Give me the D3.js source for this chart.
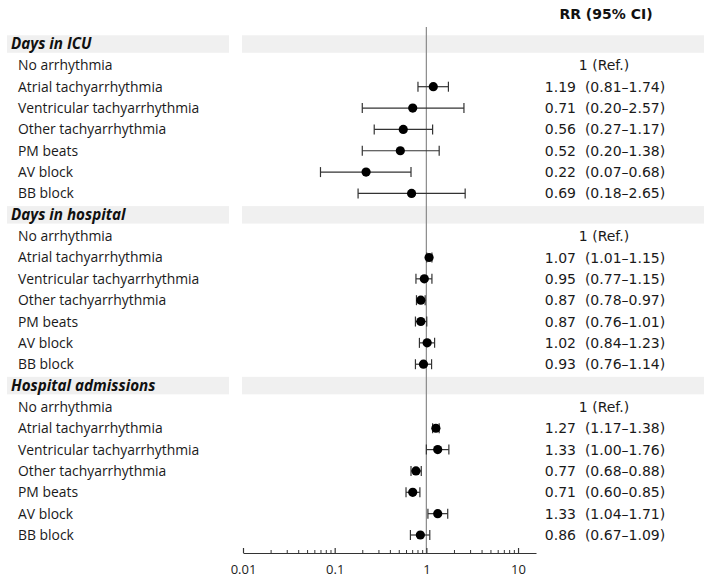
<!DOCTYPE html>
<html>
<head>
<meta charset="utf-8">
<script src="https://cdn.jsdelivr.net/npm/d3@7"></script>
<style>
  body { margin: 0; background: #fff; }
  svg { display: block; }
  .lab { font-family: "Open Sans", sans-serif; font-size: 13.9px; fill: #1a1a1a; }
  .grp { font-family: "Open Sans", sans-serif; font-size: 15.2px; font-weight: bold; font-style: italic; fill: #111; }
  .est { font-family: "DejaVu Sans", sans-serif; font-size: 14px; fill: #1a1a1a; white-space: pre; }
  .hdr { font-family: "DejaVu Sans", sans-serif; font-size: 14px; font-weight: bold; fill: #111; }
</style>
</head>
<body>
<svg id="chart" width="709" height="579"></svg>
<script>
// ---- Data ----
const groups = ["Days in ICU", "Days in hospital", "Hospital admissions"];
const categories = ["No arrhythmia", "Atrial tachyarrhythmia", "Ventricular tachyarrhythmia",
  "Other tachyarrhythmia", "PM beats", "AV block", "BB block"];
// RR estimates per group (null = reference)
const rrICU      = [null, 1.19, 0.71, 0.56, 0.52, 0.22, 0.69];
const lowICU     = [null, 0.81, 0.20, 0.27, 0.20, 0.07, 0.18];
const highICU    = [null, 1.74, 2.57, 1.17, 1.38, 0.68, 2.65];
const rrHosp     = [null, 1.07, 0.95, 0.87, 0.87, 1.02, 0.93];
const lowHosp    = [null, 1.01, 0.77, 0.78, 0.76, 0.84, 0.76];
const highHosp   = [null, 1.15, 1.15, 0.97, 1.01, 1.23, 1.14];
const rrAdm      = [null, 1.27, 1.33, 0.77, 0.71, 1.33, 0.86];
const lowAdm     = [null, 1.17, 1.00, 0.68, 0.60, 1.04, 0.67];
const highAdm    = [null, 1.38, 1.76, 0.88, 0.85, 1.71, 1.09];
const xTickLabels = ["0.01", "0.1", "1", "10"];
const headerLabel = "RR (95% CI)";
const refLabel = "1 (Ref.)";

const rrSets = [[rrICU, lowICU, highICU], [rrHosp, lowHosp, highHosp], [rrAdm, lowAdm, highAdm]];

// ---- Build rows ----
const rows = [];
groups.forEach((g, gi) => {
  rows.push({type: "group", label: g});
  const [rr, lo, hi] = rrSets[gi];
  categories.forEach((c, ci) => {
    rows.push({type: "item", label: c, rr: rr[ci], lo: lo[ci], hi: hi[ci]});
  });
});

const svg = d3.select("#chart");
const fmt = d3.format(".2f");

const y = d3.scaleLinear().domain([0, rows.length - 1]).range([44, 535]);
const x = d3.scaleLog().domain([0.01, 15.7]).range([243, 536]);

// Group bands
rows.forEach((r, i) => {
  if (r.type !== "group") return;
  const yc = y(i);
  svg.append("rect").attr("x", 7).attr("y", yc - 8.7).attr("width", 222).attr("height", 17.5).attr("fill", "#f0f0f0");
  svg.append("rect").attr("x", 242).attr("y", yc - 8.7).attr("width", 462).attr("height", 17.5).attr("fill", "#f0f0f0");
  svg.append("text").attr("class", "grp").attr("x", 11).attr("y", yc).attr("dy", "0.36em").text(r.label);
});

// Reference line
svg.append("line").attr("x1", x(1)).attr("x2", x(1)).attr("y1", 27).attr("y2", 553)
  .attr("stroke", "#8a8a8a").attr("stroke-width", 1.2);

// Header
svg.append("text").attr("class", "hdr").attr("x", 606).attr("y", 14).attr("dy", "0.36em")
  .attr("text-anchor", "middle").text(headerLabel);

// Items
rows.forEach((r, i) => {
  if (r.type !== "item") return;
  const yc = y(i);
  svg.append("text").attr("class", "lab").attr("x", 18).attr("y", yc).attr("dy", "0.36em").text(r.label);
  if (r.rr == null) {
    svg.append("text").attr("class", "est").attr("x", 604).attr("y", yc).attr("dy", "0.36em")
      .attr("text-anchor", "middle").text(refLabel);
    return;
  }
  const g = svg.append("g");
  g.append("line").attr("x1", x(r.lo)).attr("x2", x(r.hi)).attr("y1", yc).attr("y2", yc)
    .attr("stroke", "#333").attr("stroke-width", 1.2);
  [r.lo, r.hi].forEach(v => {
    g.append("line").attr("x1", x(v)).attr("x2", x(v)).attr("y1", yc - 5).attr("y2", yc + 5)
      .attr("stroke", "#333").attr("stroke-width", 1.2);
  });
  g.append("circle").attr("cx", x(r.rr)).attr("cy", yc).attr("r", 4.6).attr("fill", "#000");
  svg.append("text").attr("class", "est").attr("x", 605).attr("y", yc).attr("dy", "0.36em")
    .attr("text-anchor", "middle")
    .text(fmt(r.rr) + "  (" + fmt(r.lo) + "\u2013" + fmt(r.hi) + ")");
});

// Axis
const majorVals = xTickLabels.map(Number);
const minorVals = [];
[0.01, 0.1, 1, 10].forEach(d => { for (let k = 2; k <= 9; k++) { const v = d * k; if (v <= 15.7) minorVals.push(v); } });

const axisY = 553;
const axMajor = d3.axisBottom(x).tickValues(majorVals).tickFormat((d, i) => xTickLabels[i])
  .tickSizeInner(-5).tickSizeOuter(0).tickPadding(12);
const gAx = svg.append("g").attr("transform", `translate(0,${axisY})`).call(axMajor)
  .attr("font-family", "'Open Sans', sans-serif").attr("font-size", 13);
gAx.selectAll("text").attr("fill", "#222");
gAx.selectAll("path, line").attr("stroke", "#333").attr("stroke-width", 1.2);

const axMinor = d3.axisBottom(x).tickValues(minorVals).tickFormat("").tickSizeInner(-3).tickSizeOuter(0);
const gMin = svg.append("g").attr("transform", `translate(0,${axisY})`).call(axMinor);
gMin.select(".domain").remove();
gMin.selectAll("line").attr("stroke", "#333").attr("stroke-width", 1);
</script>
</body>
</html>
